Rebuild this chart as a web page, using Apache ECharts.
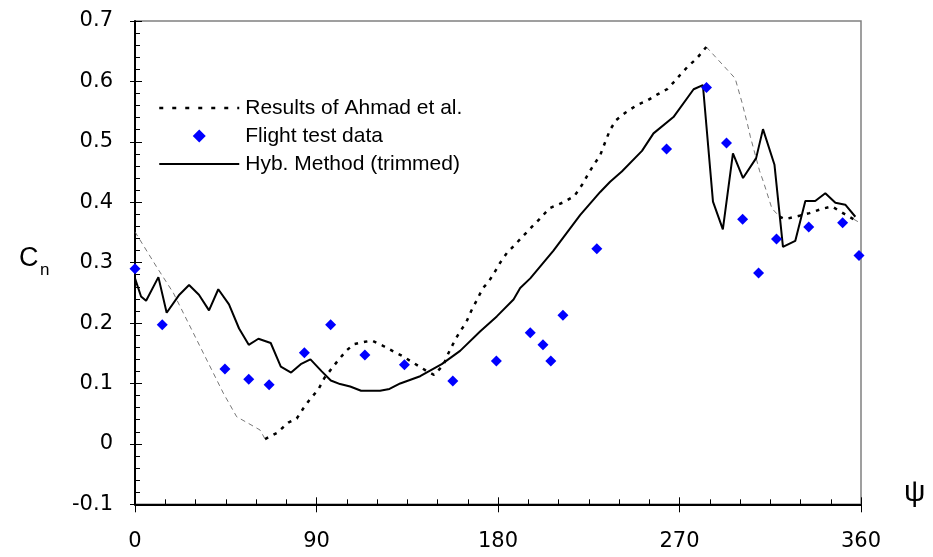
<!DOCTYPE html>
<html>
<head>
<meta charset="utf-8">
<script src="https://cdn.jsdelivr.net/npm/echarts@6/dist/echarts.min.js"></script>
<style>
html,body{margin:0;padding:0;background:#fff;}
#chart{width:933px;height:557px;}
</style>
</head>
<body>
<div id="chart"></div>
<script>
// ---- Data ----
const xTicks = [0, 90, 180, 270, 360];
const yTicks = [-0.1, 0, 0.1, 0.2, 0.3, 0.4, 0.5, 0.6, 0.7];

// Flight test data
const flightPsi = [0, 13.5, 44.6, 56.4, 66.5, 84, 97, 114, 133.6, 157.6, 179.2, 196, 202.3, 206.2, 212.2, 229, 263.6, 283.4, 293.3, 301.3, 309.2, 318.1, 334.1, 350.9, 359];
const flightCn  = [0.290, 0.197, 0.124, 0.107, 0.098, 0.151, 0.197, 0.147, 0.131, 0.104, 0.137, 0.184, 0.164, 0.137, 0.213, 0.323, 0.488, 0.590, 0.498, 0.372, 0.283, 0.339, 0.359, 0.366, 0.312];

// Hyb. Method (trimmed)
const hybPsi = [0, 3, 5.5, 11.6, 15.7, 22, 26.8, 31.7, 36.7, 41.3, 46.6, 51.6, 56.4, 61.2, 67.3, 72.3, 77.4, 82.2, 87, 92.6, 97.1, 101.7, 106.7, 112.1, 121.5, 126.2, 131.5, 141.4, 152.1, 161.2, 171.1, 179.4, 187.7, 191, 196, 207.5, 220.8, 230.7, 235.6, 241.4, 251.4, 257.1, 267, 277, 281.6, 286.6, 291.5, 296.5, 301.5, 308, 311.4, 317.1, 321.3, 327.4, 332.4, 337.3, 342.3, 347.3, 352.2, 357.2];
const hybCn  = [0.274, 0.244, 0.237, 0.276, 0.217, 0.247, 0.263, 0.247, 0.221, 0.256, 0.231, 0.191, 0.164, 0.174, 0.167, 0.128, 0.118, 0.132, 0.140, 0.120, 0.105, 0.099, 0.095, 0.088, 0.088, 0.091, 0.100, 0.112, 0.132, 0.154, 0.186, 0.211, 0.239, 0.258, 0.274, 0.320, 0.379, 0.417, 0.434, 0.451, 0.485, 0.514, 0.541, 0.587, 0.594, 0.401, 0.355, 0.481, 0.440, 0.473, 0.521, 0.462, 0.326, 0.336, 0.402, 0.402, 0.415, 0.399, 0.396, 0.376];

// Results of Ahmad et al. (sections)
const ahmadSparse1Psi = [0, 10.7, 19, 43.8, 50.4, 62, 64.5];
const ahmadSparse1Cn  = [0.351, 0.293, 0.250, 0.084, 0.045, 0.023, 0.008];
const ahmadDense1Psi = [64.5, 70.3, 76, 80.2, 83.5, 86.8, 90.9, 93.9, 97.6, 100.9, 105, 108.6, 114.1, 117.4, 123.2, 128.2, 132.3, 138.1, 143.9, 148.3, 153, 155.4, 158.7, 161.2, 164.2, 166.7, 169.5, 172.5, 175.3, 178.1, 181.1, 184.4, 188.5, 193, 197.6, 200.9, 205.5, 212.5, 217.8, 219.9, 222.1, 224.9, 227.9, 230.7, 233.2, 235.6, 238.6, 243.1, 248.9, 253.8, 258.8, 263.8, 266.7, 270.4, 274.5, 278.3, 283.3];
const ahmadDense1Cn  = [0.008, 0.018, 0.035, 0.042, 0.059, 0.074, 0.090, 0.109, 0.125, 0.139, 0.155, 0.165, 0.169, 0.171, 0.162, 0.153, 0.146, 0.134, 0.122, 0.114, 0.131, 0.150, 0.172, 0.186, 0.201, 0.220, 0.238, 0.258, 0.268, 0.283, 0.300, 0.316, 0.330, 0.346, 0.362, 0.373, 0.390, 0.400, 0.410, 0.420, 0.431, 0.448, 0.464, 0.478, 0.500, 0.520, 0.536, 0.548, 0.561, 0.568, 0.578, 0.587, 0.597, 0.611, 0.626, 0.637, 0.657];
const ahmadSparse2Psi = [283.3, 297.6, 301, 303.8, 305.1, 309.7, 311.7, 315.8, 319.6];
const ahmadSparse2Cn  = [0.657, 0.605, 0.565, 0.528, 0.509, 0.452, 0.433, 0.390, 0.376];
const ahmadDense2Psi = [319.6, 322.5, 329.9, 334.5, 340.6, 345.6, 350.6, 356.3];
const ahmadDense2Cn  = [0.376, 0.372, 0.378, 0.382, 0.389, 0.393, 0.383, 0.372];
const ahmadTailPsi = [356.3, 360];
const ahmadTailCn  = [0.372, 0.365];

// ---- Build ----
const zip = (a, b) => a.map((v, i) => [v, b[i]]);
const FONT = 'Liberation Sans, Arial, sans-serif';
const TICKFONT = 'DejaVu Sans, sans-serif';

const gridRect = { left: 135, right: 72, top: 21, bottom: 52.7 };

const chart = echarts.init(document.getElementById('chart'), null, { renderer: 'canvas' });
const thinStyle = { color: '#555', width: 0.8, type: [5, 4] };
const thickStyle = { color: '#000', width: 2.5, type: [3.5, 6] };

chart.setOption({
  animation: false,
  backgroundColor: '#fff',
  grid: [
    Object.assign({ show: true, borderColor: '#808080', borderWidth: 1.5, backgroundColor: 'transparent' }, gridRect),
    Object.assign({ show: false }, gridRect)
  ],
  xAxis: [{
    type: 'value', gridIndex: 0, min: xTicks[0], max: xTicks[xTicks.length - 1], interval: 90,
    axisLine: { show: true, onZero: false, lineStyle: { color: '#000', width: 2 } },
    axisTick: { show: true, inside: true, length: 7, lineStyle: { color: '#000', width: 1 } },
    minorTick: { show: true, splitNumber: 6, length: 5, lineStyle: { color: '#000', width: 1 } },
    axisLabel: { show: true, margin: 27, fontSize: 21, fontFamily: TICKFONT, color: '#000' },
    splitLine: { show: false }
  }, {
    type: 'value', gridIndex: 1, min: 0, max: 360, interval: 90,
    axisLine: { show: false, onZero: false },
    axisTick: { show: true, inside: false, length: 8, lineStyle: { color: '#000', width: 1 } },
    axisLabel: { show: false }, splitLine: { show: false }
  }],
  yAxis: [{
    type: 'value', gridIndex: 0, min: yTicks[0], max: yTicks[yTicks.length - 1], interval: 0.1,
    axisLine: { show: true, onZero: false, lineStyle: { color: '#000', width: 2 } },
    axisTick: { show: true, inside: true, length: 7, lineStyle: { color: '#000', width: 1 } },
    minorTick: { show: true, splitNumber: 5, length: 5, lineStyle: { color: '#000', width: 1 } },
    axisLabel: { show: true, margin: 22, fontSize: 21, fontFamily: TICKFONT, color: '#000',
      formatter: v => String(Math.round(v * 10) / 10) },
    splitLine: { show: false }
  }, {
    type: 'value', gridIndex: 1, min: -0.1, max: 0.7, interval: 0.1,
    axisLine: { show: false, onZero: false },
    axisTick: { show: true, inside: false, length: 5, lineStyle: { color: '#000', width: 1 } },
    axisLabel: { show: false }, splitLine: { show: false }
  }],
  legend: {
    orient: 'vertical', left: 153, top: 92.6, itemWidth: 80, itemHeight: 13, itemGap: 6.9,
    selectedMode: false,
    textStyle: { fontSize: 21, fontFamily: FONT, color: '#000', padding: [0, 0, 0, 1] },
    data: [
      { name: 'Results of Ahmad et al.', itemStyle: { opacity: 0 }, lineStyle: { color: '#000', width: 2.5, type: [4, 9] } },
      { name: 'Flight test data', icon: 'path://M0,-1L1,0L0,1L-1,0Z', itemStyle: { color: '#0000FF', opacity: 1 } },
      { name: 'Hyb. Method (trimmed)', itemStyle: { opacity: 0 }, lineStyle: { color: '#000', width: 2 } }
    ]
  },
  graphic: [
    { type: 'text', left: 19, top: 245, style: { text: 'C', fontSize: 27, fontFamily: FONT, fill: '#000' } },
    { type: 'text', left: 40, top: 262, style: { text: 'n', fontSize: 17, fontFamily: FONT, fill: '#000' } },
    { type: 'text', left: 904, top: 478, style: { text: 'ψ', fontSize: 30, fontFamily: FONT, fill: '#000' } }
  ],
  series: [
    { name: 'ahmadThin', type: 'line', data: zip(ahmadSparse1Psi, ahmadSparse1Cn), symbol: 'none', lineStyle: thinStyle, silent: true, z: 2 },
    { name: 'ahmadThin2', type: 'line', data: zip(ahmadSparse2Psi, ahmadSparse2Cn), symbol: 'none', lineStyle: thinStyle, silent: true, z: 2 },
    { name: 'ahmadThin3', type: 'line', data: zip(ahmadTailPsi, ahmadTailCn), symbol: 'none', lineStyle: thinStyle, silent: true, z: 2 },
    { name: 'Results of Ahmad et al.', type: 'line', data: zip(ahmadDense1Psi, ahmadDense1Cn), symbol: 'none', lineStyle: thickStyle, itemStyle: { color: '#000' }, z: 3 },
    { name: 'ahmadDense2', type: 'line', data: zip(ahmadDense2Psi, ahmadDense2Cn), symbol: 'none', lineStyle: thickStyle, z: 3 },
    { name: 'Hyb. Method (trimmed)', type: 'line', data: zip(hybPsi, hybCn), symbol: 'none',
      lineStyle: { color: '#000', width: 2, type: 'solid' }, itemStyle: { color: '#000' }, z: 4 },
    { name: 'Flight test data', type: 'scatter', data: zip(flightPsi, flightCn), symbol: 'diamond', symbolSize: 11,
      itemStyle: { color: '#0000FF', opacity: 1 }, z: 5 }
  ]
});
</script>
</body>
</html>
